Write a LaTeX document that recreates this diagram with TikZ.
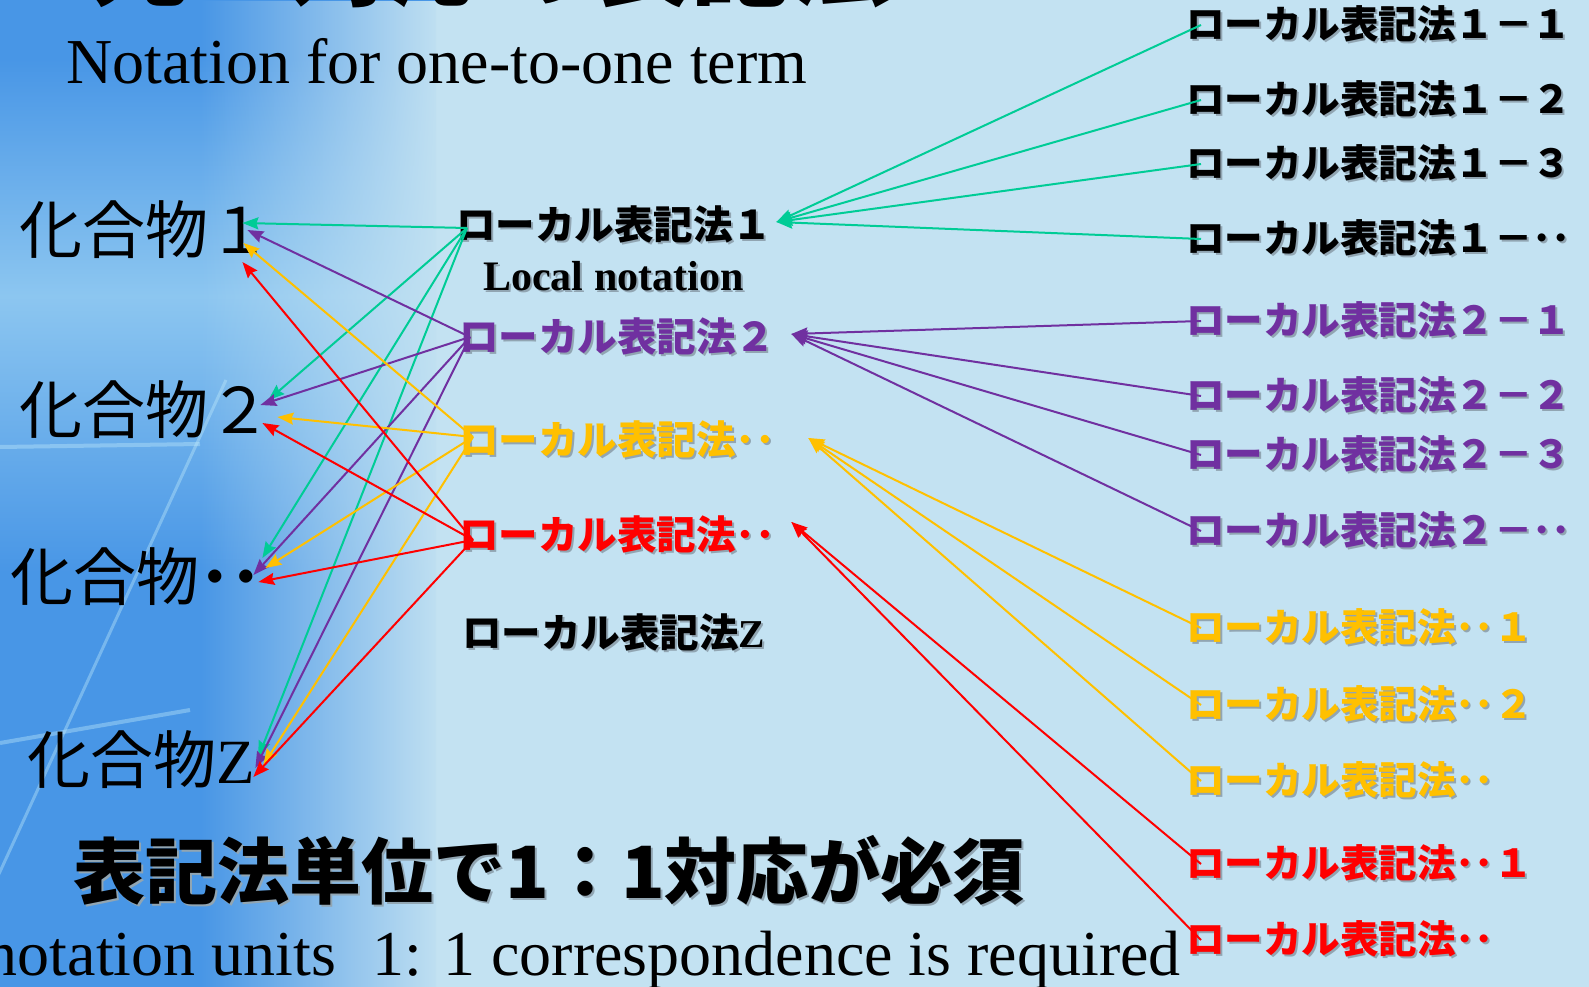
\documentclass[tikz,border=0pt]{standalone}
\usepackage{fontspec}
\setmainfont{Liberation Serif}
\newfontfamily\jp{Noto Sans CJK JP}
\usetikzlibrary{arrows.meta,fadings}
\definecolor{bgc}{RGB}{195,226,242}
\definecolor{deepblue}{RGB}{72,150,230}
\definecolor{midblue}{RGB}{140,198,240}
\definecolor{grn}{RGB}{0,204,150}
\definecolor{pu}{RGB}{112,48,160}
\definecolor{orc}{RGB}{255,192,0}
\definecolor{rd}{RGB}{255,0,0}
\definecolor{shadowc}{RGB}{145,165,178}
\tikzfading[name=fadeR, left color=transparent!100, right color=transparent!0]
\pgfdeclareverticalshading{leftband}{100bp}{color(0bp)=(deepblue); color(46bp)=(deepblue); color(60bp)=(midblue); color(72bp)=(deepblue); color(100bp)=(deepblue)}
\newcommand\shtxt[1]{\makebox[0pt][l]{\kern2pt\raisebox{-2pt}{\color{shadowc}#1}}#1}
\begin{document}
\begin{tikzpicture}[x=1pt,y=-1pt,
  comp/.style={anchor=west,inner sep=0pt,font=\jp\fontsize{63}{70}\selectfont},
  lab/.style={anchor=west,inner sep=0pt,font=\jp\bfseries\fontsize{38.5}{42}\selectfont},
  midlab/.style={lab,font=\jp\bfseries\fontsize{39.5}{43}\selectfont},
  conn/.style={line width=2pt,-{Stealth[length=16pt,width=12pt,inset=2pt]}},
  grnarrow/.style={conn,draw=grn},
  purarrow/.style={conn,draw=pu},
  orarrow/.style={conn,draw=orc},
  redarrow/.style={conn,draw=rd},
  streak/.style={line width=4pt,draw=cyan!25!white,opacity=0.4}]
\useasboundingbox (0,0) rectangle (1589,987);
\clip (0,0) rectangle (1589,987);
% background
\fill[bgc] (0,0) rectangle (1589,987);
\shade[shading=leftband] (0,0) rectangle (436,987);
\fill[bgc, path fading=fadeR] (200,0) rectangle (444,987);
\draw[streak,line width=3pt] (226,380) -- (-53,987);
\draw[streak] (0,447) -- (200,444);
\draw[streak] (0,743) -- (190,710);

% titles
\node[anchor=base west,inner sep=0pt,font=\jp\bfseries\fontsize{100}{110}\selectfont] (title) at (-10,-1) {一元一対応の表記法};
\node[anchor=base west,inner sep=0pt,font=\fontsize{64}{70}\selectfont] (eng1) at (66,84) {Notation for one-to-one term};

% compounds
\node[comp] (c1) at (19,230) {化合物１};
\node[comp] (c2) at (19,410) {化合物２};
\node[comp] (c3) at (10,577) {化合物{\bfseries ･･}};
\node[comp] (cz) at (27,760) {化合物{\rmfamily Z}};

% local notations (middle)
\node[midlab] (m1) at (456,225) {\shtxt{ローカル表記法１}};
\node[anchor=base west,inner sep=0pt,font=\bfseries\fontsize{42}{46}\selectfont] (ln) at (483,290) {\shtxt{Local notation}};
\node[midlab,text=pu] (m2) at (459,337) {\shtxt{ローカル表記法２}};
\node[midlab,text=orc] (m3) at (459,440) {\shtxt{ローカル表記法･･}};
\node[midlab,text=rd] (m4) at (459,535) {\shtxt{ローカル表記法･･}};
\node[midlab] (mz) at (462,633) {\shtxt{ローカル表記法{\rmfamily\bfseries Z}}};

% right labels
\node[lab] (r11) at (1186,25) {\shtxt{ローカル表記法１－１}};
\node[lab] (r12) at (1186,100) {\shtxt{ローカル表記法１－２}};
\node[lab] (r13) at (1186,164) {\shtxt{ローカル表記法１－３}};
\node[lab] (r1d) at (1186,239) {\shtxt{ローカル表記法１－･･}};
\node[lab,text=pu] (r21) at (1186,321) {\shtxt{ローカル表記法２－１}};
\node[lab,text=pu] (r22) at (1186,396) {\shtxt{ローカル表記法２－２}};
\node[lab,text=pu] (r23) at (1186,455) {\shtxt{ローカル表記法２－３}};
\node[lab,text=pu] (r2d) at (1186,531) {\shtxt{ローカル表記法２－･･}};
\node[lab,text=orc] (ro1) at (1186,628) {\shtxt{ローカル表記法･･１}};
\node[lab,text=orc] (ro2) at (1186,705) {\shtxt{ローカル表記法･･２}};
\node[lab,text=orc] (rod) at (1186,781) {\shtxt{ローカル表記法･･}};
\node[lab,text=rd] (rr1) at (1186,864) {\shtxt{ローカル表記法･･１}};
\node[lab,text=rd] (rrd) at (1186,940) {\shtxt{ローカル表記法･･}};

% bottom texts
\node[anchor=west,inner sep=0pt,font=\jp\bfseries\fontsize{72}{80}\selectfont] (must) at (73,871) {\shtxt{表記法単位で1：1対応が必須}};
\node[anchor=base east,inner sep=0pt,font=\fontsize{64}{70}\selectfont] (eng2) at (1181,975) {notation units\hspace{20pt} 1: 1 correspondence is required};

% ports
\coordinate (c1g) at ([shift={(-29,-7)}]c1.east);
\coordinate (c1p) at ([shift={(-24,0)}]c1.east);
\coordinate (c1o) at ([shift={(-28,13)}]c1.east);
\coordinate (c1r) at ([shift={(-29,32)}]c1.east);
\coordinate (c2g) at ([shift={(-3,-10)}]c2.east);
\coordinate (c2p) at ([shift={(-11,-5)}]c2.east);
\coordinate (c2o) at ([shift={(6,7)}]c2.east);
\coordinate (c2r) at ([shift={(-9,13)}]c2.east);
\coordinate (c3g) at ([shift={(0,-19)}]c3.east);
\coordinate (c3p) at ([shift={(-9,-2)}]c3.east);
\coordinate (c3o) at ([shift={(3,-9)}]c3.east);
\coordinate (c3r) at ([shift={(-4,5)}]c3.east);
\coordinate (czg) at ([shift={(3.5,-3)}]cz.east);
\coordinate (czp) at ([shift={(0.5,8)}]cz.east);
\coordinate (czo) at ([shift={(8.5,5)}]cz.east);
\coordinate (czr) at ([shift={(-1.5,17)}]cz.east);
\coordinate (m1s) at ([shift={(11,3)}]m1.west);
\coordinate (m2s) at ([shift={(11,0)}]m2.west);
\coordinate (m3s) at ([shift={(14,-3)}]m3.west);
\coordinate (m4s) at ([shift={(14,5)}]m4.west);
\coordinate (m1t) at ([shift={(4,-3)}]m1.east);
\coordinate (m2t) at ([shift={(16,-3)}]m2.east);
\coordinate (m3t) at ([shift={(33,-2)}]m3.east);
\coordinate (m4t) at ([shift={(16,-13)}]m4.east);

% left connectors
\draw[grnarrow] (m1s) -- (c1g);
\draw[grnarrow] (m1s) -- (c2g);
\draw[grnarrow] (m1s) -- (c3g);
\draw[grnarrow] (m1s) -- (czg);
\draw[purarrow] (m2s) -- (c1p);
\draw[purarrow] (m2s) -- (c2p);
\draw[purarrow] (m2s) -- (c3p);
\draw[purarrow] (m2s) -- (czp);
\draw[orarrow] (m3s) -- (c1o);
\draw[orarrow] (m3s) -- (c2o);
\draw[orarrow] (m3s) -- (c3o);
\draw[orarrow] (m3s) -- (czo);
\draw[redarrow] (m4s) -- (c1r);
\draw[redarrow] (m4s) -- (c2r);
\draw[redarrow] (m4s) -- (c3r);
\draw[redarrow] (m4s) -- (czr);

% right connectors
\foreach \n in {r11,r12,r13,r1d} \draw[grnarrow] ([xshift=15pt]\n.west) -- (m1t);
\foreach \n in {r21,r22,r23,r2d} \draw[purarrow] ([xshift=15pt]\n.west) -- (m2t);
\foreach \n in {ro1,ro2,rod} \draw[orarrow] ([xshift=15pt]\n.west) -- (m3t);
\foreach \n in {rr1,rrd} \draw[redarrow] ([xshift=15pt]\n.west) -- (m4t);
\end{tikzpicture}
\end{document}
